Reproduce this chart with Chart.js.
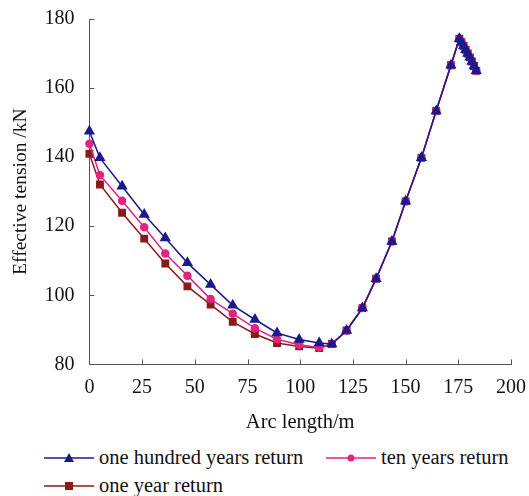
<!DOCTYPE html>
<html lang="en">
<head>
    <meta charset="UTF-8">
    <title>Effective tension along arc length</title>
    <script src="https://cdn.jsdelivr.net/npm/chart.js"></script>
    <style>
        body { margin: 0; background: #fff; }
        #wrap { position: relative; width: 529px; height: 496px; }
        #wrap canvas { position: absolute; left: 0; top: 0; }
        .leg { position: absolute; font-family: "Liberation Serif", serif; font-size: 20.5px; color: #111; display: flex; align-items: center; white-space: nowrap; }
        .leg svg { margin-right: 5px; }
    </style>
</head>
<body>
<div id="wrap">
    <canvas id="tensionChart" width="529" height="435"></canvas>
    <div class="leg" style="left:44px; top:446px;">
        <svg width="50" height="12"><line x1="0" y1="6" x2="50" y2="6" stroke="#1a1a8c" stroke-width="1.5"/><polygon points="25,1 30,10 20,10" fill="#1a1a8c"/></svg>one hundred years return
    </div>
    <div class="leg" style="left:326px; top:446px;">
        <svg width="50" height="12"><line x1="0" y1="6" x2="50" y2="6" stroke="#e2237f" stroke-width="1.5"/><circle cx="25" cy="6" r="3.5" fill="#e2237f"/></svg>ten years return
    </div>
    <div class="leg" style="left:44px; top:474px;">
        <svg width="50" height="12"><line x1="0" y1="6" x2="50" y2="6" stroke="#8b1a1a" stroke-width="1.5"/><rect x="21" y="2" width="8" height="8" fill="#8b1a1a"/></svg>one year return
    </div>
</div>
<script>
    // arc length (m) of the sampled points
    var arcLength = [0, 5, 15.5, 26, 36, 46.5, 57.5, 68, 78.5, 89, 99.5, 109, 115, 122, 129.5, 136, 143.5, 150, 157.5, 164.5, 171.5,
        175.5, 176.5, 177.5, 178.5, 179.5, 180.5, 181.5, 182.5, 183.5];

    // effective tension (kN)
    var hundredYears = [147.5, 139.8, 131.6, 123.4, 116.6, 109.4, 103.1, 97.1, 93.0, 89.1, 87.2, 86.2, 85.9, 89.8, 96.3, 104.8, 115.6, 127.2, 139.8, 153.4, 166.6,
        174.3, 173.3, 172.2, 171.1, 170.0, 168.9, 167.7, 166.4, 165.0];
    var tenYears = [143.9, 134.8, 127.4, 119.7, 112.1, 105.7, 98.9, 94.7, 90.5, 87.3, 85.7, 84.9, 85.9, 89.8, 96.3, 104.8, 115.6, 127.2, 139.8, 153.4, 166.6,
        174.3, 173.3, 172.2, 171.1, 170.0, 168.9, 167.7, 166.4, 165.0];
    var oneYear = [141.0, 132.1, 123.9, 116.4, 109.2, 102.6, 97.3, 92.3, 88.8, 86.2, 85.2, 84.7, 85.9, 89.8, 96.3, 104.8, 115.6, 127.2, 139.8, 153.4, 166.6,
        174.3, 173.3, 172.2, 171.1, 170.0, 168.9, 167.7, 166.4, 165.0];

    var xTicks = [0, 25, 50, 75, 100, 125, 150, 175, 200];
    var yTicks = [80, 100, 120, 140, 160, 180];

    function toPoints(ys) {
        return ys.map(function (y, i) { return { x: arcLength[i], y: y }; });
    }

    var axisColor = '#555';
    var serif = 'Liberation Serif';

    // short tick marks pointing into the plot area
    var innerTicks = {
        id: 'innerTicks',
        afterDraw: function (chart) {
            var ctx = chart.ctx, area = chart.chartArea;
            var xs = chart.scales.x, ys = chart.scales.y;
            ctx.save();
            ctx.strokeStyle = axisColor;
            ctx.lineWidth = 1;
            ctx.beginPath();
            xTicks.forEach(function (v) {
                var px = Math.round(xs.getPixelForValue(v)) + 0.5;
                ctx.moveTo(px, area.bottom);
                ctx.lineTo(px, area.bottom - 5);
            });
            yTicks.forEach(function (v) {
                var py = Math.round(ys.getPixelForValue(v)) + 0.5;
                ctx.moveTo(area.left, py);
                ctx.lineTo(area.left + 5, py);
            });
            ctx.stroke();
            ctx.restore();
        }
    };

    var ctx = document.getElementById('tensionChart').getContext('2d');
    var tensionChart = new Chart(ctx, {
        type: 'line',
        data: {
            datasets: [{
                label: 'one hundred years return',
                data: toPoints(hundredYears),
                borderColor: '#1a1a8c',
                backgroundColor: '#1a1a8c',
                pointStyle: 'triangle',
                pointRadius: 5,
                borderWidth: 1.5,
                clip: false
            }, {
                label: 'ten years return',
                data: toPoints(tenYears),
                borderColor: '#e2237f',
                backgroundColor: '#e2237f',
                pointStyle: 'circle',
                pointRadius: 3.5,
                borderWidth: 1.5,
                clip: false
            }, {
                label: 'one year return',
                data: toPoints(oneYear),
                borderColor: '#8b1a1a',
                backgroundColor: '#8b1a1a',
                pointStyle: 'rect',
                pointRadius: 4.5,
                borderWidth: 1.5,
                clip: false
            }]
        },
        options: {
            responsive: false,
            animation: false,
            layout: { padding: { top: 10, right: 16, left: 4, bottom: 0 } },
            plugins: {
                legend: { display: false },
                tooltip: { enabled: false }
            },
            scales: {
                x: {
                    type: 'linear',
                    min: 0,
                    max: 200,
                    afterBuildTicks: function (s) { s.ticks = xTicks.map(function (v) { return { value: v }; }); },
                    grid: { display: false },
                    border: { display: true, color: axisColor, width: 1 },
                    ticks: { color: '#111', font: { family: serif, size: 20 }, padding: 3, maxRotation: 0 },
                    title: { display: true, text: 'Arc length/m', color: '#111', font: { family: serif, size: 20.5 }, padding: { top: 8, bottom: 0 } }
                },
                y: {
                    min: 80,
                    max: 180,
                    afterBuildTicks: function (s) { s.ticks = yTicks.map(function (v) { return { value: v }; }); },
                    grid: { display: false },
                    border: { display: true, color: axisColor, width: 1 },
                    ticks: { color: '#111', font: { family: serif, size: 20 }, padding: 7 },
                    title: { display: true, text: 'Effective tension /kN', color: '#111', font: { family: serif, size: 19.5 }, padding: { top: 5, bottom: 5 } }
                }
            }
        },
        plugins: [innerTicks]
    });
</script>
</body>
</html>
